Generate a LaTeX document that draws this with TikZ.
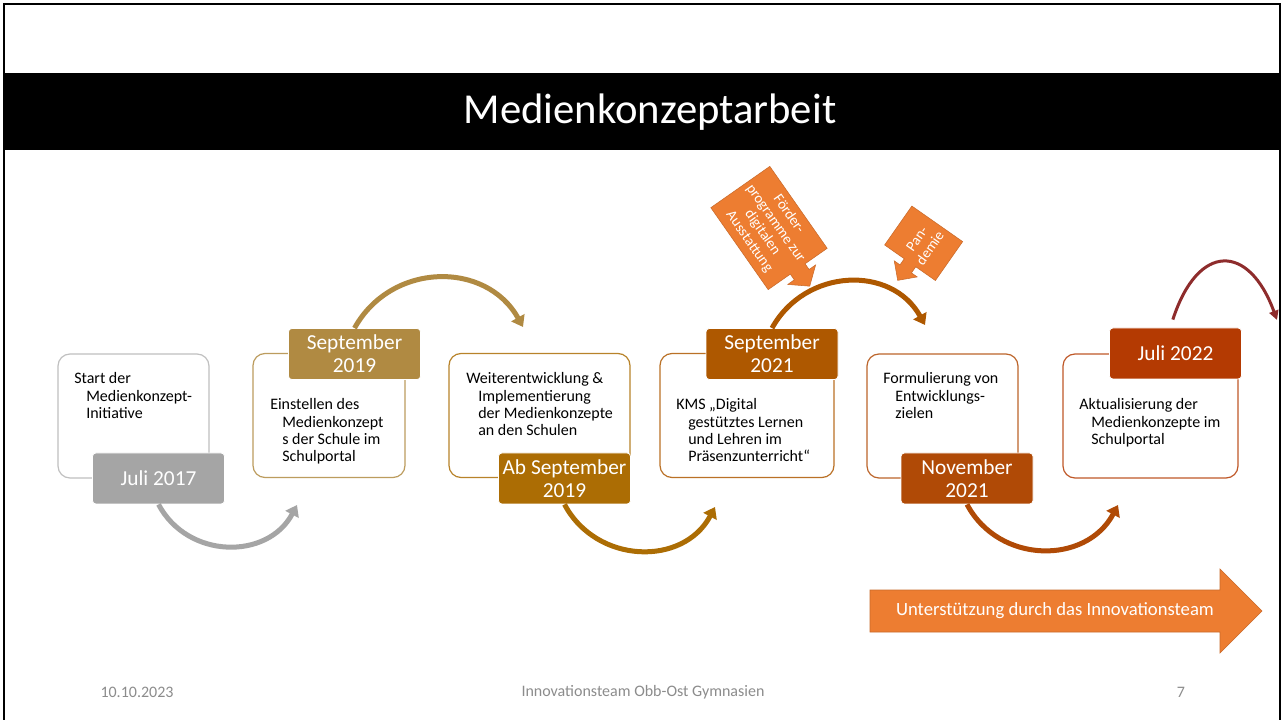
\documentclass[tikz,border=0pt]{standalone}
\usepackage{fontspec}
\setmainfont{Carlito}
\usetikzlibrary{arrows.meta}

\definecolor{grau}{HTML}{A5A5A5}
\definecolor{gold}{HTML}{B08A42}
\definecolor{ocker}{HTML}{AC6D04}
\definecolor{braun}{HTML}{AE5800}
\definecolor{rost}{HTML}{B04A06}
\definecolor{rotbraun}{HTML}{B43A02}
\definecolor{weinrot}{HTML}{8E2C2C}
\definecolor{signal}{HTML}{ED7D31}
\definecolor{fuss}{HTML}{8C8C8C}

\newcommand{\hang}[1]{\parbox[t]{160pt}{\hangindent=9pt\hangafter=1 #1}}

\tikzset{
  box/.style={draw=#1, line width=0.9pt, rounded corners=9pt, minimum height=93pt, fill=white},
  datum/.style={fill=#1, draw=white, line width=0.6pt, rounded corners=2.5pt, minimum width=99pt,
    minimum height=38.25pt, text=white, align=center, inner sep=0pt, font=\fontsize{16}{17.5}\selectfont},
  txt/.style={anchor=base west, inner sep=0pt, font=\fontsize{12}{13}\selectfont},
  bogen/.style={draw=#1, line width=3.75pt, -{Triangle[length=8pt,width=11pt]}, looseness=1.15},
  fusszeile/.style={text=fuss, font=\fontsize{12}{14}\selectfont},
  hinweis/.style={fill=signal, draw=signal!85!black, line width=0.4pt},
  hinweistext/.style={text=white, align=center, inner sep=0pt, font=\fontsize{11}{12}\selectfont},
}

\begin{document}
\begin{tikzpicture}[x=0.75pt, y=0.75pt]
    \useasboundingbox (0,0) rectangle (1283,-720);
    \fill[white] (0,0) rectangle (1283,-720);

    % frame and title band
    \draw[line width=1.5pt] (4,-720) -- (4,-4) -- (1280,-4) -- (1280,-720);
    \fill (5,-73) rectangle (1280,-150);
    \node[text=white, font=\fontsize{32}{38}\selectfont] (titel) at (650,-112) {Medienkonzeptarbeit};

    % boxes
    \node[box=grau!70, minimum width=113.25pt] (b1) at (133.5,-416) {};
    \node[box=gold!85, minimum width=114pt] (b2) at (329,-415.5) {};
    \node[box=ocker!85, minimum width=135.75pt] (b3) at (539.5,-415.5) {};
    \node[box=braun!85, minimum width=130.5pt] (b4) at (747,-415.5) {};
    \node[box=rost!85, minimum width=113.25pt] (b5) at (942.5,-416) {};
    \node[box=rotbraun!85, minimum width=131.25pt] (b6) at (1150.5,-416) {};

    \node[txt] (t1) at (74,-384) {\hang{Start der\newline Medienkonzept-\newline Initiative}};
    \node[txt] (t2) at (270,-410) {\hang{Einstellen des\newline Medienkonzept\newline s der Schule im\newline Schulportal}};
    \node[txt] (t3) at (466,-384) {\hang{Weiterentwicklung \&\newline Implementierung\newline der Medienkonzepte\newline an den Schulen}};
    \node[txt] (t4) at (676,-410) {\hang{KMS „Digital\newline gestütztes Lernen\newline und Lehren im\newline Präsenzunterricht“}};
    \node[txt] (t5) at (883,-384) {\hang{Formulierung von\newline Entwicklungs-\newline zielen}};
    \node[txt] (t6) at (1079,-410) {\hang{Aktualisierung der\newline Medienkonzepte im\newline Schulportal}};

    % dates
    \node[datum=grau] (j17) at (158.5,-478.5) {Juli 2017};
    \node[datum=gold] (s19) at (354.5,-354) {September\\2019};
    \node[datum=ocker] (as19) at (564.5,-478.5) {Ab September\\2019};
    \node[datum=braun] (s21) at (772,-354) {September\\2021};
    \node[datum=rost] (n21) at (967,-478.5) {November\\2021};
    \node[datum=rotbraun] (j22) at (1175.5,-353.5) {Juli 2022};

    % arcs
    \coordinate (e1) at (297,-505);
    \coordinate (e2) at (523,-327);
    \coordinate (e3) at (715,-507);
    \coordinate (e4) at (925,-325);
    \coordinate (e5) at (1118,-505);
    \coordinate (e6) at (1277,-320);
    \draw[bogen=grau] (j17.south) to[out=-62,in=-118] (e1);
    \draw[bogen=gold] (s19.north) to[out=61,in=119] (e2);
    \draw[bogen=ocker] (as19.south) to[out=-62,in=-118] (e3);
    \draw[bogen=braun] (s21.north) to[out=61,in=119] (e4);
    \draw[bogen=rost] (n21.south) to[out=-62,in=-118] (e5);
    \draw[bogen=weinrot, line width=2.25pt, -{Triangle[length=7pt,width=7pt]}, looseness=2]
        ([xshift=-2pt,yshift=6pt]j22.north) to[out=72,in=110] (e6);

    % callouts
    \begin{scope}[shift={(769,-228)}, rotate=-55]
        \draw[hinweis] (-50,-36) -- (50,-36) -- (50,-9) -- (57,-9) -- (57,-17) -- (71,0)
            -- (57,17) -- (57,9) -- (50,9) -- (50,36) -- (-50,36) -- cycle;
        \node[hinweistext, rotate=-55] (foerder) at (0,0) {Förder-\\programme zur\\digitalen\\Ausstattung};
    \end{scope}
    \begin{scope}[shift={(923.5,-243.5)}, rotate=55]
        \draw[hinweis] (24,-31) -- (-23.5,-31) -- (-23.5,-7) -- (-31,-7) -- (-31,-14) -- (-45,0)
            -- (-31,14) -- (-31,7) -- (-23.5,7) -- (-23.5,31) -- (24,31) -- cycle;
        \node[hinweistext, rotate=55] (pandemie) at (0,0) {Pan-\\demie};
    \end{scope}

    % support arrow
    \fill[hinweis] (870,-590) -- (1220,-590) -- (1220,-569) -- (1262,-611) -- (1220,-653)
        -- (1220,-632) -- (870,-632) -- cycle;
    \node[text=white, font=\fontsize{14}{16}\selectfont] (team) at (1055,-611) {Unterstützung durch das Innovationsteam};

    % footer
    \node[fusszeile] (datum) at (137,-692) {10.10.2023};
    \node[fusszeile] (fuss) at (643,-692) {Innovationsteam Obb-Ost Gymnasien};
    \node[fusszeile] (seite) at (1181,-692) {7};
\end{tikzpicture}
\end{document}
